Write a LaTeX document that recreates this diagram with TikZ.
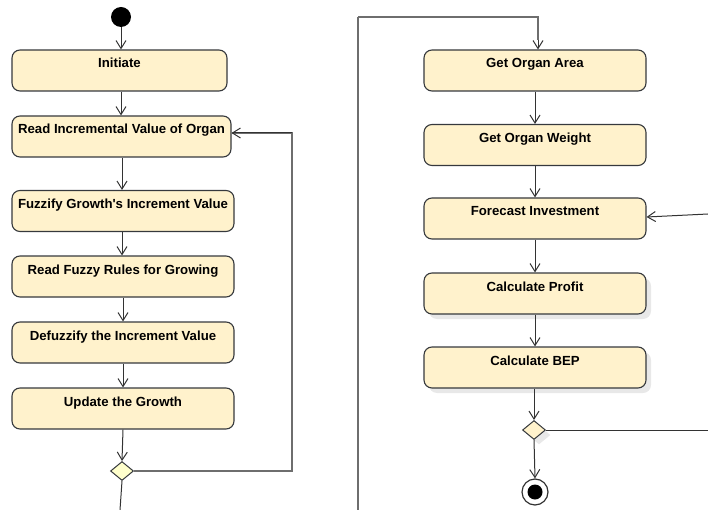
\documentclass[tikz,border=0pt]{standalone}
\usepackage{fontspec}
\setmainfont{Liberation Sans}
\usetikzlibrary{arrows.meta,shapes.geometric,shadows}
\definecolor{boxfill}{HTML}{FFF2CC}
\definecolor{boxline}{HTML}{36393D}
\definecolor{decfill}{HTML}{FFFFCC}
\definecolor{conn}{HTML}{333333}
\definecolor{loopc}{HTML}{6E6E6E}
\tikzset{
  act/.style={draw=boxline, fill=boxfill, rounded corners=8pt, line width=1.1pt,
    minimum width=222pt, inner sep=0pt, text height=18pt, text depth=23pt,
    font=\bfseries\fontsize{13.2}{15}\selectfont},
  shad/.style={drop shadow={shadow xshift=5pt, shadow yshift=-5pt, fill=black!9, opacity=1}},
  dec/.style={diamond, draw=boxline, line width=1pt, minimum width=23pt, minimum height=19pt, inner sep=0pt},
  arr/.style={draw=conn, line width=1pt, -{Straight Barb[length=8pt,width=10pt]}},
  plain/.style={draw=conn, line width=1pt},
  loopline/.style={draw=loopc, line width=1.3pt},
}
\begin{document}
\begin{tikzpicture}[x=1pt,y=-1pt]
\useasboundingbox (0,0) rectangle (708,510);
% left column
\node[circle, fill=black, minimum size=20pt, inner sep=0pt] (start) at (121,17) {};
\node[act, minimum width=215pt] (init) at (119.5,70.5) {Initiate};
\node[act, minimum width=219pt] (read) at (121.5,136.5) {Read Incremental Value of Organ};
\node[act] (fuzz) at (123,211) {Fuzzify Growth\textquotesingle s Increment Value};
\node[act] (rules) at (123,276.5) {Read Fuzzy Rules for Growing};
\node[act] (defuzz) at (123,342.5) {Defuzzify the Increment Value};
\node[act] (update) at (123,408.5) {Update the Growth};
\node[dec, fill=decfill] (dec1) at (122,471) {};
\coordinate (lr) at (292,0);
\coordinate (exitL) at (120,510);
\draw[arr] (start) -- (start |- init.north);
\draw[arr] (init.south -| start) -- (start |- read.north);
\draw[arr] (read.south -| 122,0) -- (fuzz.north -| 122,0);
\draw[arr] (fuzz.south -| 122,0) -- (rules.north -| 122,0);
\draw[arr] (rules.south -| 123,0) -- (defuzz.north -| 123,0);
\draw[arr] (defuzz.south -| 123,0) -- (update.north -| 123,0);
\draw[arr] (update.south -| 123,0) -- (dec1.north);
\draw[plain] (dec1.south) -- (exitL);
\draw[loopline] (dec1.east) -- (dec1.east -| lr) -- (lr |- 0,133) -- (read.east |- 0,133);
\draw[arr] (lr |- 0,133) -- (read.east |- 0,133);
% right column
\node[act] (area) at (535,70.5) {Get Organ Area};
\node[act] (weight) at (535,145) {Get Organ Weight};
\node[act] (forecast) at (535,218.5) {Forecast Investment};
\node[act, shad] (profit) at (535,293.5) {Calculate Profit};
\node[act, shad] (bep) at (535,367.5) {Calculate BEP};
\node[dec, fill=boxfill, shad] (dec2) at (534,430) {};
\node[circle, draw=conn, fill=white, line width=1.2pt, minimum size=26pt, inner sep=0pt] (end) at (535,492) {};
\node[circle, fill=black, minimum size=15pt, inner sep=0pt] (endin) at (end.center) {};
\coordinate (exitR) at (358,510);
\coordinate (topR) at (358,17);
\coordinate (inR) at (708,214);
\coordinate (outR) at (708,430);
\draw[loopc, line width=2pt] (exitR) -- (topR);
\draw[loopline] (topR) -- (topR -| 538,0) -- (538,40);
\draw[arr] (538,40) -- (area.north -| 538,0);
\draw[arr] (area.south -| 535,0) -- (weight.north -| 535,0);
\draw[arr] (weight.south -| 535,0) -- (forecast.north -| 535,0);
\draw[arr] (forecast.south -| 535,0) -- (profit.north -| 535,0);
\draw[arr] (profit.south -| 535,0) -- (bep.north -| 535,0);
\draw[arr] (bep.south -| 534,0) -- (dec2.north);
\draw[arr] (dec2.south) -- (end.north);
\draw[arr] (inR) -- (forecast.east |- 0,217);
\draw[plain] (dec2.east) -- (outR);
\end{tikzpicture}
\end{document}
